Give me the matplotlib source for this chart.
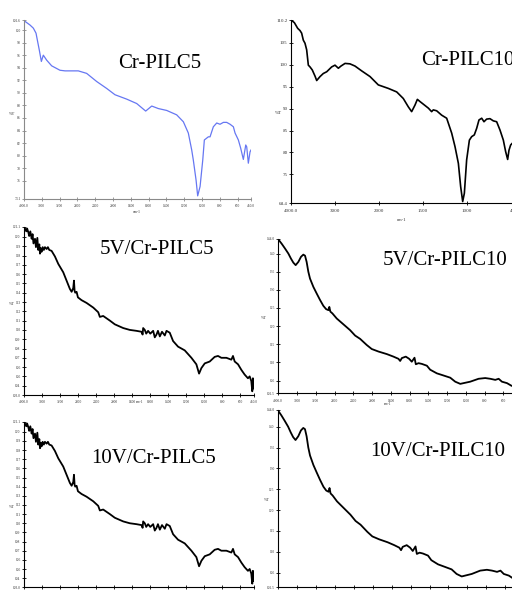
import matplotlib
matplotlib.use('Agg')
import matplotlib.pyplot as plt
import numpy as np

# ---------------- data ----------------
titles = ["Cr-PILC5", "Cr-PILC10", "5V/Cr-PILC5", "5V/Cr-PILC10", "10V/Cr-PILC5", "10V/Cr-PILC10"]

wn_crpilc5 = [4000, 3865, 3790, 3730, 3700, 3656, 3610, 3566, 3490, 3378, 3192, 3078, 2780, 2592, 2366,
              2142, 1978, 1846, 1734, 1633, 1565, 1491, 1397, 1285, 1210, 1154, 1116, 1098, 1067, 1049,
              1022, 992, 974, 929, 910, 873, 835, 798, 760, 723, 685, 648, 629, 592, 566, 536, 509, 498,
              480, 461, 450]
t_crpilc5 = [101.5, 100.8, 100.3, 99.5, 98.4, 96.8, 95.0, 96.0, 95.2, 94.3, 93.6, 93.5, 93.5, 93.1, 91.8,
             90.7, 89.7, 89.0, 88.3, 87.1, 87.9, 87.5, 87.2, 86.5, 85.4, 83.6, 80.9, 79.3, 76.1, 73.6,
             75.1, 79.3, 82.5, 83.0, 83.0, 84.6, 85.2, 85.0, 85.3, 85.3, 85.0, 84.6, 83.6, 82.5, 81.2,
             79.4, 81.7, 81.4, 78.8, 80.6, 80.9]

wn_crpilc10 = [4000, 3924, 3848, 3796, 3758, 3720, 3682, 3644, 3606, 3568, 3516, 3454, 3416, 3340, 3266,
               3188, 3076, 3000, 2924, 2864, 2772, 2660, 2546, 2394, 2204, 2016, 1894, 1799, 1724, 1667,
               1629, 1591, 1564, 1534, 1496, 1439, 1402, 1383, 1345, 1288, 1231, 1174, 1136, 1098, 1072,
               1049, 1030, 1004, 973, 947, 917, 890, 864, 833, 807, 777, 739, 701, 663, 625, 587, 561,
               538, 523, 504, 485]
t_crpilc10 = [110.2, 109.6, 108.3, 107.8, 107.2, 105.6, 104.9, 103.4, 99.9, 99.5, 98.8, 97.4, 96.4, 97.3,
              98.0, 98.4, 99.5, 99.9, 99.2, 99.7, 100.3, 100.2, 99.7, 98.6, 97.3, 95.4, 94.6, 93.8, 92.3,
              90.4, 89.3, 90.8, 92.1, 91.6, 91.0, 90.1, 89.3, 89.7, 89.5, 88.5, 87.8, 84.4, 81.3, 77.5,
              72.2, 68.8, 70.7, 78.3, 82.8, 83.6, 84.0, 85.5, 87.4, 87.8, 87.0, 87.6, 87.7, 87.2, 87.0,
              85.1, 82.8, 80.2, 78.4, 80.5, 81.7, 82.1]

wn_5v_pilc5 = [4000, 3978, 3950, 3930, 3904, 3885, 3860, 3830, 3810, 3790, 3756, 3735, 3704, 3685, 3660,
               3645, 3630, 3610, 3586, 3560, 3536, 3498, 3470, 3440, 3388, 3314, 3240, 3130, 3056, 2982,
               2944, 2908, 2892, 2878, 2864, 2834, 2804, 2724, 2612, 2464, 2354, 2318, 2244, 2096, 1993,
               1900, 1827, 1753, 1697, 1685, 1679, 1661, 1645, 1624, 1600, 1568, 1550, 1531, 1515, 1494,
               1470, 1439, 1420, 1402, 1384, 1347, 1292, 1218, 1144, 1089, 1059, 1033, 996, 941, 886,
               849, 812, 756, 701, 683, 664, 627, 590, 554, 517, 498, 480, 469, 462, 454]
t_5v_pilc5 = [121.0, 120.9, 120.6, 120.9, 120.5, 120.1, 120.6, 119.8, 120.3, 119.3, 119.8, 118.9, 119.9,
              118.6, 119.2, 118.2, 118.8, 118.4, 118.9, 118.6, 118.9, 118.7, 118.9, 118.6, 118.5, 117.9,
              117.1, 116.2, 115.3, 114.4, 114.1, 114.5, 115.3, 114.2, 114.0, 114.1, 113.5, 113.2, 112.9,
              112.4, 111.9, 111.4, 111.5, 111.0, 110.6, 110.2, 110.0, 109.9, 109.8, 109.5, 110.2, 110.0,
              109.6, 109.9, 109.6, 109.9, 109.2, 109.5, 109.9, 109.3, 109.8, 109.4, 109.9, 109.8, 109.7,
              108.8, 108.2, 107.8, 107.0, 106.3, 105.3, 105.9, 106.4, 106.6, 107.1, 107.2, 107.0, 107.0,
              106.8, 107.2, 106.6, 106.3, 105.7, 105.2, 104.8, 105.0, 104.5, 103.4, 104.8, 103.7]

wn_5v_pilc10 = [4000, 3928, 3858, 3786, 3730, 3680, 3630, 3572, 3516, 3466, 3430, 3396, 3360, 3324, 3252,
                3182, 3110, 3040, 2982, 2932, 2912, 2890, 2846, 2754, 2612, 2470, 2362, 2256, 2114, 2008,
                1932, 1843, 1772, 1719, 1701, 1683, 1641, 1605, 1577, 1548, 1534, 1505, 1470, 1416, 1381,
                1310, 1238, 1167, 1114, 1060, 1025, 954, 865, 794, 740, 687, 651, 616, 562, 516, 450]
t_5v_pilc10 = [143.9, 142.7, 141.4, 140.0, 138.6, 137.5, 136.8, 137.7, 139.1, 139.7, 139.4, 137.7, 135.0,
               133.1, 130.8, 129.0, 127.2, 125.6, 124.7, 124.4, 125.3, 124.0, 123.5, 122.1, 120.5, 118.9,
               117.4, 116.5, 114.8, 113.7, 113.0, 112.3, 111.6, 111.0, 110.4, 111.2, 111.6, 111.0, 110.2,
               111.3, 109.5, 109.8, 109.6, 109.1, 108.0, 107.0, 106.4, 105.8, 104.7, 104.1, 104.3, 104.7,
               105.5, 105.7, 105.5, 105.2, 105.5, 104.7, 104.3, 103.6, 103.0]

# the 10V spectra are drawn identically to the 5V ones in the picture
wn_10v_pilc5, t_10v_pilc5 = wn_5v_pilc5, t_5v_pilc5
wn_10v_pilc10, t_10v_pilc10 = wn_5v_pilc10, t_5v_pilc10

xt_dense = [4000, 3600, 3200, 2800, 2400, 2000, 1800, 1600, 1400, 1200, 1000, 800, 600, 450]
xl_dense = ["4000.0", "3600", "3200", "2800", "2400", "2000", "1800", "1600", "1400", "1200", "1000",
            "800", "600", "450.0"]
xl_dense_cut = xl_dense[:-1] + [""]
xl_none = [""] * len(xt_dense)
xt_sparse = [4000, 3000, 2000, 1500, 1000, 450]
xl_sparse = ["4000.0", "3000", "2000", "1500", "1000", "450.0"]

# ---------------- figure ----------------
W, H = 512, 590
fig = plt.figure(figsize=(W / 100, H / 100), dpi=100)
fig.patch.set_facecolor('white')
SERIF = 'Liberation Serif'


def fwd(x):
    x = np.asarray(x, float)
    return np.where(x <= 2000, x, 2000 + (x - 2000) / 2)


def inv(v):
    v = np.asarray(v, float)
    return np.where(v <= 2000, v, 2000 + 2 * (v - 2000))


def make_ax(x0, x1, top, bottom, ylim, yticks, xt, xl, fs=2.6, spine='black'):
    ax = fig.add_axes([x0 / W, 1 - bottom / H, (x1 - x0) / W, (bottom - top) / H])
    ax.set_xscale('function', functions=(fwd, inv))
    ax.set_xlim(4000, 450)
    ax.set_ylim(*ylim)
    for s in ['top', 'right']:
        ax.spines[s].set_visible(False)
    for s in ['left', 'bottom']:
        ax.spines[s].set_color(spine)
        ax.spines[s].set_linewidth(0.8)
    ax.set_xticks(xt)
    ax.set_xticklabels(xl, fontsize=fs, family=SERIF)
    yt = [ylim[0]] + list(yticks) + [ylim[1]]
    ylabels = [f"{ylim[0]:.1f}"] + [f"{v:g}" for v in yticks] + [f"{ylim[1]:.1f}"]
    ax.set_yticks(yt)
    ax.set_yticklabels(ylabels, fontsize=fs, family=SERIF)
    ax.tick_params(direction='inout', length=2.5, width=0.6, pad=1.2, colors=spine,
                   labelcolor='#333333')
    ax.tick_params(axis='x', pad=2.5)
    ax.patch.set_alpha(0)
    return ax


def label(x, y, s, size):
    fig.text(x / W, 1 - y / H, s, fontsize=size, family=SERIF, ha='center', va='center', color='#333333')


# Panel 1 : Cr-PILC5 (blue)
ax1 = make_ax(24, 251, 20, 199, (73.1, 101.6), range(76, 101, 2), xt_dense, xl_dense, spine='#8a8a8a')
ax1.plot(wn_crpilc5, t_crpilc5, color='#6677f2', lw=0.9)
label(12, 114, "%T", 3.2)
label(137, 212, "cm-1", 2.8)

# Panel 2 : Cr-PILC10
ax2 = make_ax(291, 515.4, 20, 203.3, (68.4, 110.2), range(75, 106, 5), xt_sparse, xl_sparse, fs=3.6)
ax2.plot(wn_crpilc10, t_crpilc10, color='black', lw=1.2)
label(278, 113, "%T", 3.6)
label(402, 220, "cm-1", 3.4)

# Panel 3 : 5V/Cr-PILC5
ax3 = make_ax(24, 254, 226.7, 395, (103.0, 121.1), range(104, 121), xt_dense, xl_dense)
ax3.plot(wn_5v_pilc5, t_5v_pilc5, color='black', lw=1.3)
label(12, 304, "%T", 3.0)
label(140, 402, "cm-1", 2.6)

# Panel 4 : 5V/Cr-PILC10
ax4 = make_ax(278.3, 517.5, 239, 393.3, (101.5, 144.0), range(105, 141, 5), xt_dense, xl_dense_cut)
ax4.plot(wn_5v_pilc10, t_5v_pilc10, color='black', lw=1.3)
label(264, 318, "%T", 3.0)
label(388, 404, "cm-1", 2.6)

# Panel 5 : 10V/Cr-PILC5 (its tick labels fall below the picture)
ax5 = make_ax(24, 254, 421.7, 587.3, (103.0, 121.1), range(104, 121), xt_dense, xl_none)
ax5.plot(wn_10v_pilc5, t_10v_pilc5, color='black', lw=1.3)
label(12, 507, "%T", 3.0)

# Panel 6 : 10V/Cr-PILC10
ax6 = make_ax(278, 519.5, 410, 587.3, (101.5, 144.0), range(105, 141, 5), xt_dense, xl_none)
ax6.plot(wn_10v_pilc10, t_10v_pilc10, color='black', lw=1.3)
label(267, 500, "%T", 3.0)

# Titles
title_pos = [(118, 68.3), (421, 65), (100, 254.5), (383, 265), (91, 463), (370, 456)]
for (tx, ty), t in zip(title_pos, titles):
    fig.text(tx / W, 1 - ty / H, t, fontsize=15, family=SERIF, ha='left', va='baseline', color='black')

fig.savefig('out.png', dpi=100, facecolor='white')
